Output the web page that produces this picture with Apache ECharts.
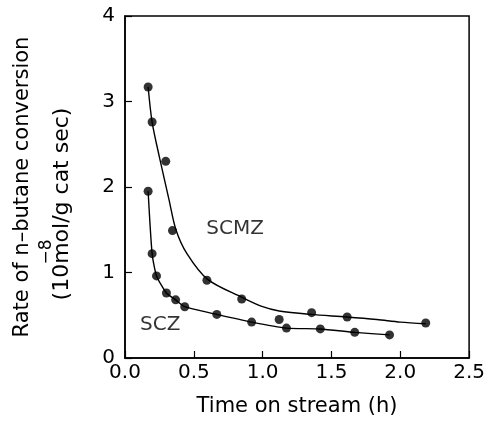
<!DOCTYPE html>
<html>
<head>
<meta charset="utf-8">
<script src="https://cdn.jsdelivr.net/npm/echarts@6/dist/echarts.min.js"></script>
<style>html,body{margin:0;padding:0;background:#fff;}#c{width:488px;height:424px;}</style>
</head>
<body>
<div id="c"></div>
<script>
// Measured points (time on stream h, rate 10^-8 mol/g cat sec)
var scmzPoints = [[0.168,3.17],[0.197,2.76],[0.296,2.30],[0.345,1.49],[0.595,0.91],[0.848,0.69],[1.12,0.45],[1.356,0.53],[1.614,0.48],[2.185,0.41]];
var sczPoints = [[0.168,1.95],[0.197,1.22],[0.229,0.96],[0.301,0.76],[0.368,0.68],[0.434,0.60],[0.667,0.51],[0.920,0.42],[1.173,0.35],[1.419,0.34],[1.669,0.30],[1.922,0.27]];
// Fitted curve for SCMZ
var scmzCurve = [[0.168,3.17],[0.197,2.76],[0.25,2.35],[0.32,1.85],[0.37,1.50],[0.45,1.22],[0.6,0.92],[0.85,0.71],[1.0,0.60],[1.12,0.55],[1.35,0.51],[1.61,0.48],[1.83,0.45],[2.0,0.42],[2.185,0.40]];
var seriesLabels = [{name:'SCMZ', pos:[0.80,1.51]},{name:'SCZ', pos:[0.256,0.39]}];
var xTicks = [0, 0.5, 1.0, 1.5, 2.0, 2.5];
var yTicks = [0, 1, 2, 3, 4];

var FF = 'DejaVu Sans';
var chart = echarts.init(document.getElementById('c'), null, {renderer:'canvas'});
chart.setOption({
  animation: false,
  backgroundColor: '#fff',
  grid: {left:125, right:17, top:16, bottom:66, show:true, borderColor:'#000', borderWidth:1.5, backgroundColor:'transparent'},
  xAxis: {
    type:'value', min:xTicks[0], max:xTicks[xTicks.length-1], interval:0.5,
    axisLine:{show:true, lineStyle:{color:'#000', width:1.5}},
    axisTick:{show:true, inside:true, length:7, lineStyle:{color:'#000', width:1.2}},
    splitLine:{show:false},
    axisLabel:{color:'#000', fontFamily:FF, fontSize:20, margin:5, formatter:function(v){return v.toFixed(1);}},
    name:'Time on stream (h)', nameLocation:'middle', nameGap:38,
    nameTextStyle:{color:'#000', fontFamily:FF, fontSize:21}
  },
  yAxis: {
    type:'value', min:yTicks[0], max:yTicks[yTicks.length-1], interval:1,
    axisLine:{show:true, lineStyle:{color:'#000', width:1.5}},
    axisTick:{show:true, inside:true, length:7, lineStyle:{color:'#000', width:1.2}},
    splitLine:{show:false},
    axisLabel:{color:'#000', fontFamily:FF, fontSize:20, margin:10},
    name:'{a|Rate of n–butane conversion}\n{s|−8}\n{b|(10mol/g cat sec)}',
    nameLocation:'middle', nameGap:54, nameRotate:90,
    nameTextStyle:{color:'#000', fontFamily:FF, fontSize:21,
      rich:{
        a:{fontFamily:FF, fontSize:21, color:'#000', lineHeight:36},
        s:{fontFamily:FF, fontSize:17, color:'#000', lineHeight:12, padding:[0,130,0,0]},
        b:{fontFamily:FF, fontSize:22, color:'#000', lineHeight:18, padding:[0,34,0,0]}
      }}
  },
  series: [
    {type:'line', data:scmzCurve, smooth:0.3, showSymbol:false, symbol:'none', lineStyle:{color:'#000', width:1.4}, z:2},
    {type:'line', data:sczPoints, smooth:0.2, showSymbol:false, symbol:'none', lineStyle:{color:'#000', width:1.4}, z:2},
    {type:'scatter', data:scmzPoints, symbol:'circle', symbolSize:9, itemStyle:{color:'#000'}, z:3},
    {type:'scatter', data:sczPoints, symbol:'circle', symbolSize:9, itemStyle:{color:'#000'}, z:3},
    {type:'scatter', symbolSize:0, z:4,
      data: seriesLabels.map(function(d){return {value:d.pos, name:d.name};}),
      label:{show:true, position:'inside', formatter:'{b}', color:'#000', fontFamily:FF, fontSize:20}}
  ]
});
</script>
</body>
</html>
